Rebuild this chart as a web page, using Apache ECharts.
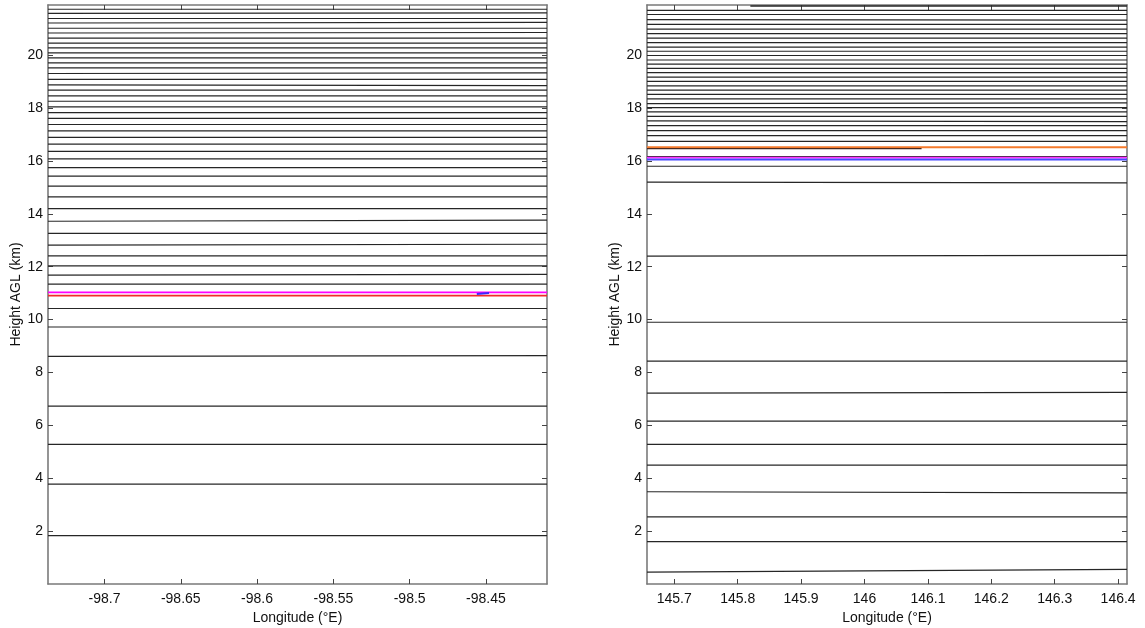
<!DOCTYPE html>
<html>
<head>
<meta charset="utf-8">
<script src="https://cdn.jsdelivr.net/npm/echarts@6/dist/echarts.min.js"></script>
<style>
html,body{margin:0;padding:0;background:#fff;}
#c{width:1145px;height:628px;}
</style>
</head>
<body>
<div id="c"></div>
<script>
// ---------- DATA ----------
// Left panel (longitude range, km heights of contour lines at west / east edge)
const leftLon = [-98.737, -98.41];
const leftLonTicks = [-98.7, -98.65, -98.6, -98.55, -98.5, -98.45];
const leftLineStart = [21.74, 21.58, 21.39, 21.22, 21.02, 20.84, 20.65, 20.46, 20.28, 20.09,
  19.90, 19.71, 19.52, 19.31, 19.09, 18.88, 18.68, 18.46, 18.26, 18.05,
  17.83, 17.61, 17.38, 17.14, 16.89, 16.64, 16.36, 16.08, 15.75, 15.43,
  15.05, 14.64, 14.20, 13.72, 13.26, 12.82, 12.41, 12.03, 11.68, 11.34,
  10.42, 9.72, 8.61, 6.73, 5.28, 3.78, 1.83];
const leftLineEnd = [21.74, 21.60, 21.39, 21.24, 21.02, 20.86, 20.65, 20.46, 20.28, 20.09,
  19.90, 19.71, 19.52, 19.33, 19.09, 18.85, 18.68, 18.46, 18.26, 18.05,
  17.83, 17.61, 17.38, 17.14, 16.89, 16.64, 16.36, 16.08, 15.75, 15.43,
  15.05, 14.64, 14.20, 13.76, 13.26, 12.85, 12.41, 12.03, 11.71, 11.34,
  10.42, 9.72, 8.64, 6.73, 5.28, 3.78, 1.83];
const leftMagenta = [11.03, 11.03];
const leftRed = [10.91, 10.91];
const leftBlueMarkLon = [-98.456, -98.448];
const leftBlueMarkH = [10.97, 11.01];

// Right panel
const rightLon = [145.657, 146.414];
const rightLonTicks = [145.7, 145.8, 145.9, 146, 146.1, 146.2, 146.3, 146.4];
const rightLineStart = [21.70, 21.54, 21.35, 21.17, 20.99, 20.82, 20.65, 20.48, 20.31, 20.15,
  19.99, 19.82, 19.66, 19.50, 19.34, 19.17, 19.01, 18.84, 18.68, 18.52,
  18.35, 18.17, 18.02, 17.86, 17.69, 17.52, 17.34, 17.15, 16.96, 16.74,
  16.17, 15.80, 15.20, 12.40, 9.90, 8.43, 7.22, 6.16, 5.28, 4.50,
  3.49, 2.54, 1.60, 0.45];
const rightLineEnd = [21.70, 21.54, 21.33, 21.17, 20.99, 20.82, 20.65, 20.48, 20.31, 20.15,
  19.99, 19.82, 19.66, 19.50, 19.34, 19.17, 19.01, 18.84, 18.68, 18.52,
  18.35, 18.20, 18.02, 17.86, 17.69, 17.49, 17.34, 17.15, 16.96, 16.74,
  16.17, 15.80, 15.17, 12.43, 9.90, 8.43, 7.25, 6.16, 5.28, 4.50,
  3.45, 2.54, 1.60, 0.55];
const rightOrange = [16.52, 16.52];
const rightMagenta = [16.13, 16.13];
const rightBlue = [16.06, 16.06];
const rightTopPartialLon = [145.82, 146.414];
const rightTopPartialH = [21.86, 21.86];
const rightDarkPartialLon = [145.657, 146.09];
const rightDarkPartialH = [16.47, 16.47];

const heightRange = [0, 21.9];
const heightTicks = [2, 4, 6, 8, 10, 12, 14, 16, 18, 20];

// ---------- STYLE / LAYOUT ----------
const FONT = 'Liberation Sans, Arial, sans-serif';
const frameColor = '#7a7a7a';
const lineColor = '#262626';
const textColor = '#111';

function seg(xs, ys) { return [[xs[0], ys[0]], [xs[1], ys[1]]]; }

function lineSeries(data, axisIdx, color, width) {
  return {
    type: 'line', xAxisIndex: axisIdx, yAxisIndex: axisIdx,
    data: data, showSymbol: false, symbol: 'none', silent: true,
    lineStyle: { color: color, width: width }, z: 3, animation: false
  };
}

function xAxes(range, ticks, gridIndex) {
  const common = {
    type: 'value', gridIndex: gridIndex, min: range[0], max: range[1],
    splitLine: { show: false },
    axisLine: { show: true, onZero: false, lineStyle: { color: frameColor, width: 1.6 } },
    axisTick: { show: true, inside: true, length: 5, customValues: ticks, lineStyle: { color: '#444', width: 1 } }
  };
  return [
    Object.assign({}, common, {
      position: 'bottom',
      name: 'Longitude (°E)', nameLocation: 'middle', nameGap: 26,
      nameTextStyle: { fontFamily: FONT, fontSize: 14, color: textColor },
      axisLabel: { show: true, customValues: ticks, margin: 8, fontFamily: FONT, fontSize: 14, color: textColor }
    }),
    Object.assign({}, common, { position: 'top', axisLabel: { show: false } })
  ];
}

function yAxes(gridIndex) {
  const common = {
    type: 'value', gridIndex: gridIndex, min: heightRange[0], max: heightRange[1],
    splitLine: { show: false },
    axisLine: { show: true, onZero: false, lineStyle: { color: frameColor, width: 1.6 } },
    axisTick: { show: true, inside: true, length: 5, customValues: heightTicks, lineStyle: { color: '#444', width: 1 } }
  };
  return [
    Object.assign({}, common, {
      position: 'left',
      name: 'Height AGL (km)', nameLocation: 'middle', nameGap: 24, nameRotate: 90,
      nameTextStyle: { fontFamily: FONT, fontSize: 14, color: textColor },
      axisLabel: { show: true, customValues: heightTicks, margin: 5, fontFamily: FONT, fontSize: 14, color: textColor }
    }),
    Object.assign({}, common, { position: 'right', axisLabel: { show: false } })
  ];
}

const series = [];
// left panel black lines
leftLineStart.forEach((h, i) => series.push(lineSeries(seg(leftLon, [h, leftLineEnd[i]]), 0, lineColor, 1.2)));
series.push(lineSeries(seg(leftLon, leftRed), 0, '#f22a2a', 1.8));
series.push(lineSeries(seg(leftLon, leftMagenta), 0, '#ff00ff', 1.8));
series.push(lineSeries(seg(leftBlueMarkLon, leftBlueMarkH), 0, '#3a2aff', 2));
// right panel black lines
rightLineStart.forEach((h, i) => series.push(lineSeries(seg(rightLon, [h, rightLineEnd[i]]), 2, lineColor, 1.2)));
series.push(lineSeries(seg(rightTopPartialLon, rightTopPartialH), 2, lineColor, 1.4));
series.push(lineSeries(seg(rightLon, rightOrange), 2, '#f47a2c', 1.8));
series.push(lineSeries(seg(rightDarkPartialLon, rightDarkPartialH), 2, '#4a2a20', 1.3));
series.push(lineSeries(seg(rightLon, rightMagenta), 2, '#ff33ff', 1.8));
series.push(lineSeries(seg(rightLon, rightBlue), 2, '#4848ff', 2));

const xs = xAxes(leftLon, leftLonTicks, 0).concat(xAxes(rightLon, rightLonTicks, 1));
const ys = yAxes(0).concat(yAxes(1));

const chart = echarts.init(document.getElementById('c'), null, { renderer: 'canvas' });
chart.setOption({
  backgroundColor: '#ffffff',
  animation: false,
  grid: [
    { left: 48, top: 5, width: 499, height: 579, containLabel: false, outerBoundsMode: 'none' },
    { left: 647, top: 5, width: 480, height: 579, containLabel: false, outerBoundsMode: 'none' }
  ],
  xAxis: xs,
  yAxis: ys,
  series: series
});
</script>
</body>
</html>
